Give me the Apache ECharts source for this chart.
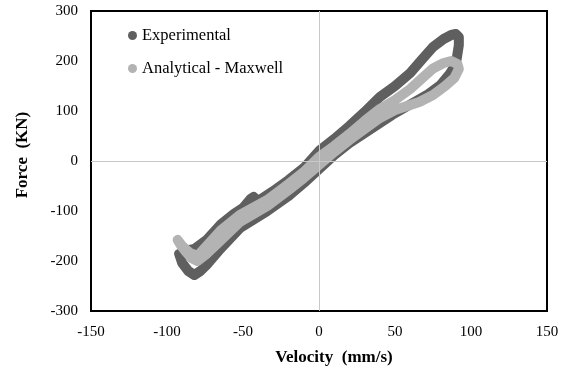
<!DOCTYPE html>
<html>
<head>
<meta charset="utf-8">
<script src="https://cdn.jsdelivr.net/npm/echarts@6/dist/echarts.min.js"></script>
<style>
  html, body { margin: 0; padding: 0; background: #fff; }
  #chart { width: 566px; height: 376px; }
</style>
</head>
<body>
<div id="chart"></div>
<script>
// velocity (mm/s) and force (kN), traced along each loop
var expVel = [0, 10, 20, 30, 40, 50, 60, 68, 75, 82, 87, 90, 92, 92, 91, 90,
  86, 80, 72, 64, 56, 48, 40, 30, 20, 10, 0,
  -10, -20, -34, -52, -65, -74, -78, -82, -86, -90, -92,
  -88, -82, -74, -65, -56, -50, -45, -43, -40, -37, -30, -20, -10, 0]
var expForce = [20, 44, 70, 98, 128, 150, 176, 204, 228, 244, 252, 254, 248, 232, 212, 194,
  174, 152, 134, 120, 106, 92, 76, 56, 36, 12, -16,
  -44, -70, -100, -134, -176, -208, -220, -228, -220, -204, -186,
  -180, -176, -158, -128, -106, -94, -76, -72, -80, -74, -60, -38, -14, 20]

var maxVel = [0, 10, 20, 30, 40, 50, 60, 68, 75, 82, 87, 91, 92,
  89, 83, 75, 66, 58, 50, 40, 30, 20, 10, 0,
  -10, -20, -34, -52, -65, -74, -80, -84, -88, -91, -93,
  -90, -85, -80, -74, -65, -52, -34, -20, -10, 0]
var maxForce = [8, 30, 54, 80, 104, 122, 144, 166, 185, 196, 200, 194, 184,
  166, 150, 132, 118, 110, 102, 86, 64, 42, 18, -8,
  -34, -58, -90, -122, -160, -186, -200, -194, -180, -168, -158,
  -170, -184, -190, -170, -140, -108, -78, -46, -22, 8]

var seriesNames = ['Experimental', 'Analytical - Maxwell']
var xTicks = { min: -150, max: 150, step: 50 }
var yTicks = { min: -300, max: 300, step: 100 }

function pairs(xs, ys) {
  var out = []
  for (var i = 0; i < xs.length; i++) out.push([xs[i], ys[i]])
  return out
}

var chart = echarts.init(document.getElementById('chart'))
var font = 'Liberation Serif, Times New Roman, serif'

var option = {
  animation: false,
  backgroundColor: '#fff',
  grid: {
    left: 91, right: 19, top: 11, bottom: 65,
    show: true, borderColor: '#000', borderWidth: 2, backgroundColor: 'transparent'
  },
  legend: {
    data: seriesNames,
    orient: 'vertical',
    left: 123, top: 22,
    icon: 'circle',
    itemWidth: 9, itemHeight: 9,
    itemGap: 16,
    textStyle: { fontFamily: font, fontSize: 16.5, color: '#000', lineHeight: 16 }
  },
  xAxis: {
    type: 'value',
    min: xTicks.min, max: xTicks.max, interval: xTicks.step,
    axisLine: { show: false },
    axisTick: { show: false },
    splitLine: { show: false },
    axisLabel: { fontFamily: font, fontSize: 15, color: '#000', margin: 14 }
  },
  yAxis: {
    type: 'value',
    min: yTicks.min, max: yTicks.max, interval: yTicks.step,
    axisLine: { show: false },
    axisTick: { show: false },
    splitLine: { show: false },
    axisLabel: { fontFamily: font, fontSize: 15, color: '#000', margin: 13 }
  },
  graphic: [
    {
      type: 'text', x: 334, y: 358,
      style: { text: 'Velocity  (mm/s)', font: 'bold 17px ' + font, fill: '#000', align: 'center', verticalAlign: 'middle' }
    },
    {
      type: 'text', x: 23, y: 155, rotation: Math.PI / 2,
      style: { text: 'Force  (KN)', font: 'bold 17px ' + font, fill: '#000', align: 'center', verticalAlign: 'middle' }
    }
  ],
  series: [
    {
      type: 'line', data: [], z: 1, silent: true,
      markLine: {
        silent: true, symbol: ['none', 'none'],
        label: { show: false },
        lineStyle: { color: '#c8c8c8', type: 'solid', width: 1 },
        data: [{ xAxis: 0 }, { yAxis: 0 }]
      }
    },
    {
      name: seriesNames[0], type: 'line', z: 2,
      data: pairs(expVel, expForce),
      showSymbol: false, color: '#5f5f5f',
      lineStyle: { width: 10, color: '#5f5f5f', cap: 'round', join: 'round' }
    },
    {
      name: seriesNames[1], type: 'line', z: 3,
      data: pairs(maxVel, maxForce),
      showSymbol: false, color: '#b3b3b3',
      lineStyle: { width: 10, color: '#b3b3b3', cap: 'round', join: 'round' }
    }
  ]
}
chart.setOption(option)
</script>
</body>
</html>
